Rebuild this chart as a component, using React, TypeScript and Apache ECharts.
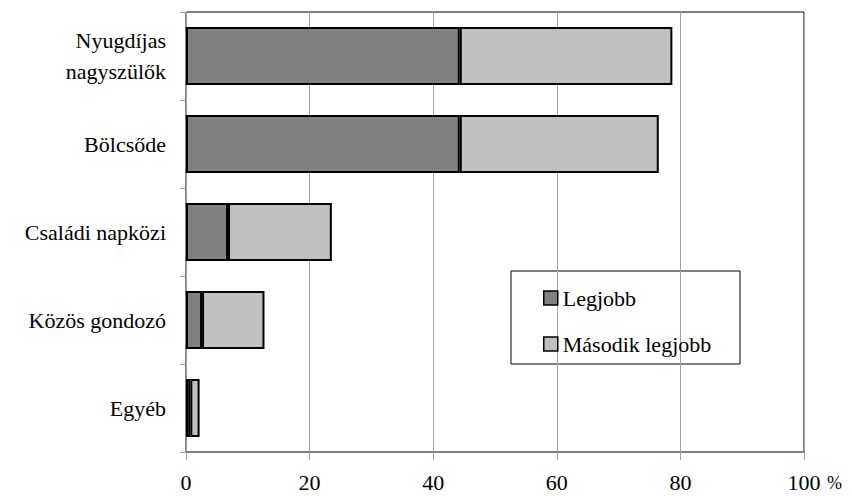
import React, { useEffect, useRef } from "react";
import * as echarts from "echarts";

const categories = ["Nyugdíjas\nnagyszülők", "Bölcsőde", "Családi napközi", "Közös gondozó", "Egyéb"];
const legjobb = [44.3, 44.3, 6.8, 2.6, 0.7];
const masodik = [34.4, 32.2, 16.8, 10.1, 1.5];
const xTicks = [0, 20, 40, 60, 80, 100];

export default function App() {
  const ref = useRef<HTMLDivElement>(null);
  useEffect(() => {
    const chart = echarts.init(ref.current!, undefined, { renderer: "svg" });
    const font = "Liberation Serif";
    chart.setOption({
      animation: false,
      backgroundColor: "#fff",
      textStyle: { fontFamily: font },
      grid: {
        left: 186, right: 48, top: 12, bottom: 45,
        show: true, borderColor: "#000", borderWidth: 1,
        containLabel: false, outerBoundsMode: "none",
      },
      xAxis: {
        type: "value",
        min: xTicks[0],
        max: xTicks[xTicks.length - 1],
        interval: 20,
        axisLine: { show: true, lineStyle: { color: "#808080", width: 2 } },
        axisTick: { show: true, length: 8, lineStyle: { color: "#a0a0a0" } },
        splitLine: { show: true, lineStyle: { color: "#a0a0a0", width: 1 } },
        axisLabel: {
          color: "#000",
          fontSize: 22,
          fontFamily: font,
          margin: 19,
          formatter: "{v|{value}}",
          rich: { v: { fontSize: 22, fontFamily: font, color: "#000" } },
        },
      },
      yAxis: {
        type: "category",
        inverse: true,
        data: categories,
        axisLine: { show: true, lineStyle: { color: "#a0a0a0", width: 1 } },
        axisTick: { show: true, length: 6, lineStyle: { color: "#a0a0a0" } },
        axisLabel: { color: "#000", fontSize: 22, fontFamily: font, margin: 20, lineHeight: 31, align: "right" },
      },
      legend: {
        orient: "vertical",
        left: 538,
        top: 282,
        itemWidth: 14,
        itemHeight: 14,
        itemGap: 24,
        icon: "rect",
        itemStyle: { borderColor: "#000", borderWidth: 1.5 },
        textStyle: { fontSize: 22, fontFamily: font, color: "#000", lineHeight: 22 },
        data: ["Legjobb", "Második legjobb"],
      },
      graphic: [
        {
          type: "rect",
          shape: { x: 511, y: 271, width: 229, height: 93 },
          style: { fill: "#fff", stroke: "#000", lineWidth: 1 },
          z: 0,
          zlevel: 0,
        },
        {
          type: "text",
          x: 827,
          y: 474,
          style: { text: "%", fontSize: 18, fontFamily: font, fill: "#000" },
        },
      ],
      series: [
        {
          name: "Legjobb",
          type: "bar",
          stack: "a",
          data: legjobb,
          barCategoryGap: "34%",
          itemStyle: { color: "#808080", borderColor: "#000", borderWidth: 2 },
        },
        {
          name: "Második legjobb",
          type: "bar",
          stack: "a",
          data: masodik,
          barCategoryGap: "34%",
          itemStyle: { color: "#c0c0c0", borderColor: "#000", borderWidth: 2 },
        },
      ],
    });
    return () => chart.dispose();
  }, []);
  return <div ref={ref} style={{ width: 852, height: 497, position: "absolute", left: 0, top: 0 }} />;
}
